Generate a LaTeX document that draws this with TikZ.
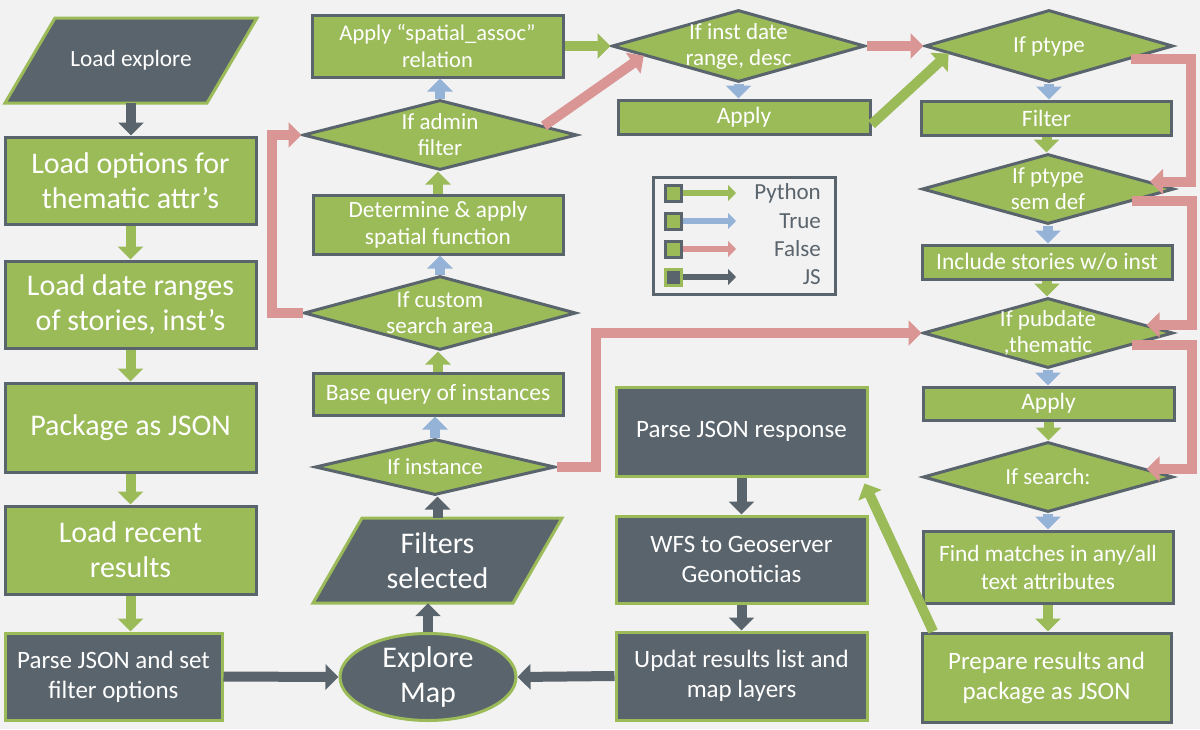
\documentclass[tikz,border=0pt]{standalone}
\usepackage{fontspec}
\setmainfont{Carlito}
\usetikzlibrary{shapes.geometric,arrows.meta,calc}
\definecolor{cgreen}{HTML}{9BBB59}
\definecolor{cdark}{HTML}{5A646C}
\definecolor{cblue}{HTML}{95B3D7}
\definecolor{cpink}{HTML}{DA9694}
\definecolor{cbg}{HTML}{F2F2F2}
\begin{document}
\begin{tikzpicture}[x=1pt,y=-1pt,
  big/.style={font=\fontsize{30}{35}\selectfont},
  mid/.style={font=\fontsize{23.5}{29}\selectfont},
  dmid/.style={font=\fontsize{25}{30}\selectfont},
  dia/.style={font=\fontsize{23}{26}\selectfont},
  gbox/.style={draw=cdark, fill=cgreen, line width=3pt, text=white, align=center, inner sep=0pt},
  dbox/.style={draw=cgreen, fill=cdark, line width=3pt, text=white, align=center, inner sep=0pt},
  gdia/.style={diamond, draw=cdark, fill=cgreen, line width=3pt, inner sep=0pt},
  dlab/.style={text=white, align=center, inner sep=0pt, dia},
  ghost/.style={inner sep=0pt, text=white, align=center},
  flow/.style={line width=10pt, -{Triangle[length=13pt,width=25pt]}},
  gflow/.style={flow, draw=cgreen},
  bflow/.style={flow, draw=cblue},
  pflow/.style={flow, draw=cpink},
  dflow/.style={flow, draw=cdark},
  lgsq/.style={line width=3pt, minimum width=16pt, minimum height=16pt, inner sep=0pt},
  lgar/.style={line width=6pt, -{Triangle[length=8pt,width=16pt]}},
  lgtxt/.style={text=cdark, anchor=east, inner sep=0pt, font=\fontsize{23}{26}\selectfont}
]
\useasboundingbox (0,0) rectangle (1200,729);
\fill[cbg] (0,0) rectangle (1200,729);

% ---------- left column ----------
\filldraw[fill=cdark, draw=cgreen, line width=3pt] (55,18) -- (257,18) -- (207,103) -- (5,103) -- cycle;
\node[ghost, minimum width=200pt, minimum height=85pt, font=\fontsize{23.3}{26}\selectfont] (explore) at (131,60.5) {Load explore};
\node[gbox, big, minimum width=251pt, minimum height=87pt] (opts) at (130.5,180.5) {Load options for\\thematic attr’s};
\node[gbox, big, minimum width=251pt, minimum height=87pt] (dates) at (130.5,304.5) {Load date ranges\\of stories, inst’s};
\node[gbox, big, minimum width=251pt, minimum height=89pt] (pack) at (130.5,427.5) {Package as JSON};
\node[gbox, big, minimum width=251pt, minimum height=88pt] (recent) at (130.5,550) {Load recent\\results};
\node[dbox, dmid, minimum width=217pt, minimum height=87pt] (parseset) at (113.5,676.5) {Parse JSON and set\\filter options};

% ---------- explore map & filters ----------
\node[ellipse, draw=cgreen, fill=cdark, line width=3pt, text=white, align=center, inner sep=0pt, big, minimum width=176pt, minimum height=87pt] (emap) at (428,677) {Explore\\Map};
\filldraw[fill=cdark, draw=cgreen, line width=3pt] (362,518) -- (562,518) -- (513,603) -- (313,603) -- cycle;
\node[ghost, big, minimum width=200pt, minimum height=85pt] (filt) at (437.5,560.5) {Filters\\selected};

% ---------- middle-left column ----------
\node[gdia, minimum width=240pt, minimum height=56pt, label={[dlab]center:If instance}] (inst) at (435,467) {};
\node[gbox, mid, minimum width=250pt, minimum height=42pt] (base) at (438,394) {Base query of instances};
\node[gdia, minimum width=272pt, minimum height=74pt, label={[dlab]center:If custom\\search area}] (custom) at (440,313) {};
\node[gbox, font=\fontsize{23.3}{27}\selectfont, minimum width=250pt, minimum height=59pt] (determ) at (438,224.5) {Determine \& apply\\spatial function};
\node[gdia, minimum width=274pt, minimum height=70pt, label={[dlab]center:If admin\\filter}] (admin) at (440,135) {};
\node[gbox, font=\fontsize{22.5}{27}\selectfont, minimum width=251pt, minimum height=62pt] (spatial) at (437.5,46) {Apply “spatial\_assoc”\\relation};

% ---------- top middle ----------
\node[gdia, minimum width=253pt, minimum height=72pt, label={[dlab]center:If inst date\\range, desc}] (instd) at (738.5,46) {};
\node[gbox, mid, minimum width=252pt, minimum height=34pt] (apply2) at (744,117) {Apply};

% ---------- middle dark column ----------
\node[dbox, dmid, minimum width=251pt, minimum height=89pt] (parseresp) at (741.5,431.5) {Parse JSON response};
\node[dbox, dmid, minimum width=251pt, minimum height=87pt] (wfs) at (741.5,559.5) {WFS to Geoserver\\Geonoticias};
\node[dbox, dmid, minimum width=251pt, minimum height=88pt] (updat) at (741.5,676) {Updat results list and\\map layers};

% ---------- right column ----------
\node[gdia, minimum width=248pt, minimum height=72pt, label={[dlab]center:If ptype}] (ptype) at (1049,46) {};
\node[gbox, mid, minimum width=250pt, minimum height=34pt] (filter) at (1046.5,118) {Filter};
\node[gdia, minimum width=252pt, minimum height=70pt, label={[dlab]center:If ptype\\sem def}] (semdef) at (1048,189) {};
\node[gbox, mid, minimum width=250pt, minimum height=34pt] (include) at (1047,262) {Include stories w/o inst};
\node[gdia, minimum width=250pt, minimum height=70pt, label={[dlab]center:If pubdate\\,thematic}] (pubdate) at (1048,333) {};
\node[gbox, mid, minimum width=251pt, minimum height=33pt] (apply3) at (1048.5,403.5) {Apply};
\node[gdia, minimum width=250pt, minimum height=70pt, label={[dlab]center:If search:}] (search) at (1048,477) {};
\node[gbox, font=\fontsize{23.3}{28}\selectfont, minimum width=250pt, minimum height=72pt] (find) at (1048,567) {Find matches in any/all\\text attributes};
\node[gbox, dmid, minimum width=249pt, minimum height=89pt] (prepare) at (1046.5,677.5) {Prepare results and\\package as JSON};

% ---------- legend ----------
\node[draw=cdark, line width=3pt, minimum width=182pt, minimum height=117pt, inner sep=0pt] (legend) at (744,235.5) {};
\node[lgsq, draw=cdark, fill=cgreen] (sq1) at (673,193) {};
\node[lgsq, draw=cdark, fill=cgreen] (sq2) at (673,221) {};
\node[lgsq, draw=cdark, fill=cgreen] (sq3) at (673,249) {};
\node[lgsq, draw=cgreen, fill=cdark] (sq4) at (673,277) {};
\coordinate (e1) at (736,193);
\coordinate (e2) at (736,221);
\coordinate (e3) at (736,249);
\coordinate (e4) at (736,277);
\draw[lgar, draw=cgreen] (sq1.east) -- (e1);
\draw[lgar, draw=cblue] (sq2.east) -- (e2);
\draw[lgar, draw=cpink] (sq3.east) -- (e3);
\draw[lgar, draw=cdark] (sq4.east) -- (e4);
\node[lgtxt] (t1) at (821,193) {Python};
\node[lgtxt] (t2) at (821,221) {True};
\node[lgtxt] (t3) at (821,249) {False};
\node[lgtxt] (t4) at (821,277) {JS};

% ---------- connectors: left column ----------
\draw[dflow] (explore.south) -- (explore.south |- opts.north);
\draw[gflow] (opts.south) -- (dates.north);
\draw[gflow] (dates.south) -- (pack.north);
\draw[gflow] (pack.south) -- (recent.north);
\draw[gflow] (recent.south) -- (recent.south |- parseset.north);
\draw[dflow] (parseset.east) -- (emap.west);
\draw[dflow] (updat.west) -- (emap.east);
\draw[dflow] (emap.north) -- (emap.north |- filt.south);
\draw[dflow] (filt.north) -- (filt.north |- inst.south);

% ---------- connectors: middle-left ----------
\draw[bflow] (inst.north) -- (inst.north |- base.south);
\draw[gflow] (base.north) -- (base.north |- custom.south);
\draw[bflow] (custom.north) -- (custom.north |- determ.south);
\draw[gflow] (determ.north) -- (determ.north |- admin.south);
\draw[bflow] (admin.north) -- (admin.north |- spatial.south);
\draw[pflow] (custom.west) -- ++(-31,0) |- (admin.west);
\draw[gflow] (spatial.east) -- (instd.west);
\draw[pflow] ($(admin.north)!0.75!(admin.east)$) -- ($(instd.west)!0.26!(instd.south)$);
\draw[pflow] (inst.east) -- ++(39,0) |- (pubdate.west);

% ---------- connectors: top middle ----------
\draw[bflow] (instd.south) -- (instd.south |- apply2.north);
\draw[pflow] (instd.east) -- (ptype.west);
\draw[gflow] ($(apply2.north east)!0.7!(apply2.south east)$) -- ($(ptype.west)!0.2!(ptype.south)$);

% ---------- connectors: dark column ----------
\draw[dflow] (parseresp.south) -- (wfs.north);
\draw[dflow] (wfs.south) -- (updat.north);
\draw[gflow] ($(prepare.north west)!0.05!(prepare.north east)$) -- ($(parseresp.south east)+(-4,6)$);

% ---------- connectors: right column ----------
\draw[bflow] (ptype.south) -- (ptype.south |- filter.north);
\draw[gflow] (filter.south) -- (filter.south |- semdef.north);
\draw[bflow] (semdef.south) -- (semdef.south |- include.north);
\draw[gflow] (include.south) -- (include.south |- pubdate.north);
\draw[bflow] (pubdate.south) -- (pubdate.south |- apply3.north);
\draw[gflow] (apply3.south) -- (apply3.south |- search.north);
\draw[bflow] (search.south) -- (search.south |- find.north);
\draw[gflow] (find.south) -- (find.south |- prepare.north);
\draw[pflow] ($(ptype.east)!0.35!(ptype.south)$) -- ++(60,0) |- ($(semdef.north)!0.8!(semdef.east)$);
\draw[pflow] ($(semdef.east)!0.34!(semdef.south)$) -- ++(60,0) |- ($(pubdate.north)!0.78!(pubdate.east)$);
\draw[pflow] ($(pubdate.east)!0.34!(pubdate.south)$) -- ++(60,0) |- ($(search.north)!0.78!(search.east)$);
\end{tikzpicture}
\end{document}
